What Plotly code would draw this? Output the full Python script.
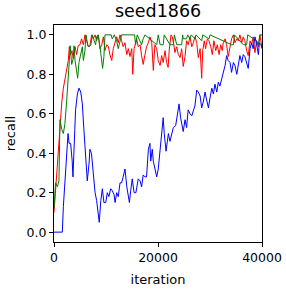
import plotly.graph_objects as go

# ---- data ----
blue_iter = [0, 1600, 1800, 2250, 2550, 2700, 2900, 3200, 3500, 3650, 4000, 4150, 4500, 4800, 5150, 5450,
             5750, 6100, 6400, 6750, 6900, 7200, 7550, 7900, 8200, 8500, 8700, 9000, 9300, 9600, 9950,
             10250, 10550, 10900, 11200, 11550, 11750, 12050, 12350, 12700, 13000, 13300, 13650, 14000,
             14300, 14500, 14750, 15050, 15400, 15750, 16200, 16550, 16850, 17150, 17500, 17800, 18150,
             18450, 18600, 18900, 19100, 19400, 19750, 20050, 20400, 20700, 21000, 21200, 21550, 21800,
             22000, 22300, 22650, 22950, 23400, 23800, 24050, 24350, 24650, 24850, 25200, 25500, 25800,
             26150, 26500, 26800, 27100, 27450, 27750, 28100, 28400, 28700, 29050, 29350, 29700, 30000,
             30350, 30650, 30950, 31300, 31600, 31900, 32250, 32550, 32900, 33200, 33500, 33850, 34150,
             34500, 34800, 35150, 35450, 35750, 36100, 36400, 36700, 37050, 37350, 37700, 38000, 38300,
             38650, 38950, 39300, 39500, 39800, 40000]
blue_val = [0.0, 0.0, 0.13, 0.33, 0.46, 0.50, 0.45, 0.45, 0.36, 0.28, 0.52, 0.62, 0.70, 0.73, 0.71, 0.65,
            0.52, 0.35, 0.26, 0.35, 0.42, 0.40, 0.30, 0.20, 0.16, 0.10, 0.05, 0.16, 0.22, 0.15, 0.15,
            0.20, 0.18, 0.22, 0.21, 0.19, 0.15, 0.20, 0.18, 0.25, 0.25, 0.28, 0.32, 0.23,
            0.19, 0.15, 0.21, 0.27, 0.20, 0.20, 0.27, 0.26, 0.23, 0.29, 0.28, 0.28, 0.42,
            0.45, 0.36, 0.42, 0.36, 0.32, 0.28, 0.32, 0.42, 0.49, 0.58, 0.50, 0.41, 0.46,
            0.50, 0.46, 0.50, 0.53, 0.54, 0.60, 0.65, 0.58, 0.53, 0.51, 0.57, 0.53, 0.62,
            0.60, 0.59, 0.61, 0.64, 0.72, 0.71, 0.69, 0.63, 0.66, 0.71, 0.67, 0.63, 0.68,
            0.73, 0.70, 0.75, 0.71, 0.76, 0.74, 0.78, 0.80, 0.845, 0.895, 0.87, 0.86, 0.81,
            0.86, 0.845, 0.80, 0.85, 0.895, 0.86, 0.90, 0.89, 0.86, 0.83, 0.93, 0.96, 0.93,
            0.99, 0.955, 0.90, 0.96, 0.95, 0.93]

red_iter = [0, 400, 800, 1200, 1500, 1800, 2100, 2450, 2750, 2950, 3200, 3450, 3700, 4050, 4350, 4650,
            5000, 5300, 5650, 5950, 6300, 6600, 6900, 7250, 7550, 7900, 8200, 8500, 8850, 9150, 9500,
            9800, 10150, 10450, 10750, 11100, 11400, 11750, 12050, 12350, 12700, 13000, 13300, 13650,
            14000, 14300, 14600, 14950, 15150, 15400, 15700, 15900, 16200, 16550, 16850, 17150, 17500,
            17800, 18150, 18450, 18800, 19100, 19400, 19750, 20050, 20400, 20700, 21000, 21350, 21650,
            21950, 22150, 22500, 22750, 23050, 23250, 23600, 23900, 24250, 24550, 24850, 25200, 25500,
            25800, 26150, 26500, 26800, 27100, 27450, 27750, 28100, 28400, 28600, 28900, 29150, 29500,
            29800, 30150, 30450, 30750, 31100, 31400, 31750, 32050, 32350, 32550, 32900, 33200, 33500,
            33850, 34150, 34500, 34800, 35150, 35450, 35750, 36100, 36400, 36700, 37050, 37350, 37700,
            38000, 38300, 38650, 38950, 39300, 39600, 39950]
red_val = [0.10, 0.25, 0.42, 0.55, 0.66, 0.73, 0.78, 0.82, 0.87, 0.94, 0.90, 0.92, 0.88, 0.94, 0.90, 0.945,
           0.95, 0.98, 0.95, 1.0, 0.97, 0.94, 0.945, 1.0, 0.98, 1.0, 0.97, 1.0, 0.93, 0.945, 0.99,
           0.92, 0.95, 0.94, 0.90, 0.87, 0.93, 0.96, 0.99, 0.96, 1.0, 0.97, 0.94, 0.96,
           0.90, 0.93, 0.89, 0.93, 0.80, 0.93, 0.97, 0.98, 0.94, 0.95, 0.895, 0.85, 0.90,
           0.94, 0.96, 0.99, 0.96, 0.82, 0.95, 0.93, 0.87, 0.845, 0.895, 0.86, 0.92, 0.86,
           0.835, 0.92, 1.0, 0.99, 0.95, 0.91, 0.94, 0.90, 0.885, 0.93, 0.84, 0.89, 0.97,
           0.95, 0.99, 0.94, 0.96, 0.99, 0.96, 0.885, 0.93, 0.78, 0.92, 0.97, 0.93, 0.98,
           0.97, 0.94, 0.90, 0.97, 0.92, 0.95, 0.90, 0.95, 0.92, 0.96, 0.98, 0.95, 0.89,
           0.95, 0.98, 1.0, 0.96, 0.98, 0.97, 1.0, 0.96, 0.99, 0.97, 0.92, 0.895, 0.97,
           0.95, 0.99, 0.91, 0.97, 0.94, 1.0, 0.94]

green_iter = [0, 300, 650, 950, 1150, 1500, 1800, 2100, 2450, 2750, 2950, 3100, 3400, 3700, 3850, 4050,
              4350, 4550, 4800, 5150, 5450, 5650, 5950, 6150, 6500, 6800, 7100, 7350, 7700, 8000, 8200,
              8500, 8850, 9150, 9350, 9600, 9800, 11000, 11200, 11600, 12050, 12350, 12700, 13000,
              15500, 15700, 16000, 16850, 17150, 17500, 19750, 20050, 20400, 21000, 21200, 22300, 22950,
              23150, 23600, 24550, 24750, 24850, 25500, 25700, 26150, 26400, 27100, 27300, 28400, 28600,
              29800, 30000, 34150, 34500, 34700, 36400, 37050, 37250, 38950, 39300, 39600, 40000]
green_val = [0.12, 0.25, 0.23, 0.26, 0.57, 0.52, 0.50, 0.55, 0.67, 0.77, 0.87, 0.945, 0.85, 0.88, 0.945, 0.87,
             0.82, 0.78, 0.86, 0.90, 0.94, 0.87, 0.92, 1.0, 0.945, 0.94, 0.95, 1.0, 0.97, 0.95, 0.99,
             1.0, 0.94, 0.885, 0.83, 0.89, 1.0, 1.0, 0.98, 1.0, 0.97, 0.93, 0.97, 1.0,
             1.0, 0.95, 1.0, 0.95, 0.98, 1.0, 0.95, 1.0, 0.95, 0.95, 1.0, 0.95, 0.95,
             1.0, 0.95, 0.95, 1.0, 0.98, 0.98, 1.0, 0.98, 1.0, 0.98, 1.0, 0.97, 1.0,
             0.98, 1.0, 0.95, 0.95, 1.0, 0.95, 0.95, 1.0, 0.97, 0.95, 1.0, 1.0]

x_ticks = [0, 20000, 40000]
y_ticks = [0.0, 0.2, 0.4, 0.6, 0.8, 1.0]

fig = go.Figure()
fig.add_trace(go.Scatter(x=red_iter, y=red_val, mode="lines", line=dict(color="#ff0000", width=1)))
fig.add_trace(go.Scatter(x=green_iter, y=green_val, mode="lines", line=dict(color="#008000", width=1)))
fig.add_trace(go.Scatter(x=blue_iter, y=blue_val, mode="lines", line=dict(color="#0000ff", width=1)))

axis_common = dict(showline=True, linecolor="black", linewidth=1, mirror=True, ticks="outside",
                   ticklen=4, tickcolor="black", showgrid=False, zeroline=False, automargin=False,
                   tickfont=dict(family="DejaVu Sans", size=12.5, color="black"))

fig.update_layout(
    width=286, height=289,
    margin=dict(l=54, r=24, t=25, b=47),
    paper_bgcolor="white", plot_bgcolor="white",
    showlegend=False,
    font=dict(family="DejaVu Sans", size=13, color="black"),
    title=dict(text="seed1866", x=0.5527, xanchor="center", y=0.964, yanchor="middle",
               font=dict(family="DejaVu Sans", size=17.5, color="black")),
    xaxis=dict(range=[0, 40000], tickvals=x_ticks, ticktext=[str(v) for v in x_ticks],
               title=dict(text="iteration", standoff=10, font=dict(size=13)), **axis_common),
    yaxis=dict(range=[-0.05, 1.05], tickvals=y_ticks, ticktext=[f"{v:.1f}" for v in y_ticks],
               title=dict(text="recall", standoff=8, font=dict(size=13)), **axis_common),
)

fig.write_html("out.html", config={"displayModeBar": False},
               post_script="document.body.style.margin='0';")
